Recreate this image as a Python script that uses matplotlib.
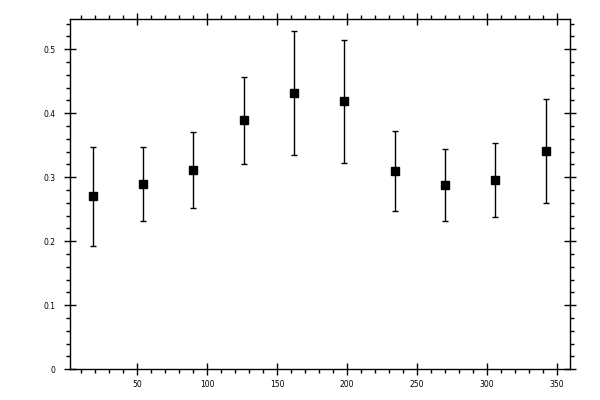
import numpy as np
import matplotlib
matplotlib.use('Agg')
import matplotlib.pyplot as plt
from matplotlib.ticker import MultipleLocator

# bin centres and values
angle = [18, 54, 90, 126, 162, 198, 234, 270, 306, 342]
value = [0.270, 0.289, 0.311, 0.389, 0.432, 0.419, 0.309, 0.2875, 0.295, 0.341]
upper = [0.347, 0.347, 0.370, 0.456, 0.529, 0.515, 0.373, 0.344, 0.353, 0.422]
lower = [0.192, 0.231, 0.252, 0.320, 0.334, 0.323, 0.247, 0.231, 0.2375, 0.259]

val = np.array(value)
yerr = [val - np.array(lower), np.array(upper) - val]

plt.rcParams['font.family'] = 'DejaVu Sans'
plt.rcParams['font.size'] = 5.5

fig = plt.figure(figsize=(6, 4), dpi=100)
ax = fig.add_axes([0.116, 0.077, 0.834, 0.875])
ax.errorbar(angle, value, yerr=yerr, fmt='s', color='black', ms=5.8,
            elinewidth=1, capsize=2.2, capthick=1)

ax.set_xlim(1.6, 359.3)
ax.set_ylim(0, 0.547)
ax.xaxis.set_major_locator(MultipleLocator(50))
ax.xaxis.set_minor_locator(MultipleLocator(10))
ax.yaxis.set_major_locator(MultipleLocator(0.1))
ax.yaxis.set_minor_locator(MultipleLocator(0.02))
ax.yaxis.set_major_formatter(plt.FuncFormatter(lambda v, p: '0' if v == 0 else '%g' % v))

ax.tick_params(which='major', direction='inout', length=9, width=1,
               top=True, right=True, labeltop=False, labelright=False)
ax.tick_params(which='minor', direction='out', length=3, width=1,
               top=True, right=True)
ax.tick_params(axis='y', which='major', pad=5.5)
ax.tick_params(axis='x', which='major', pad=3.6)
for s in ax.spines.values():
    s.set_linewidth(1)

plt.savefig('out.png', dpi=100)
plt.close()
